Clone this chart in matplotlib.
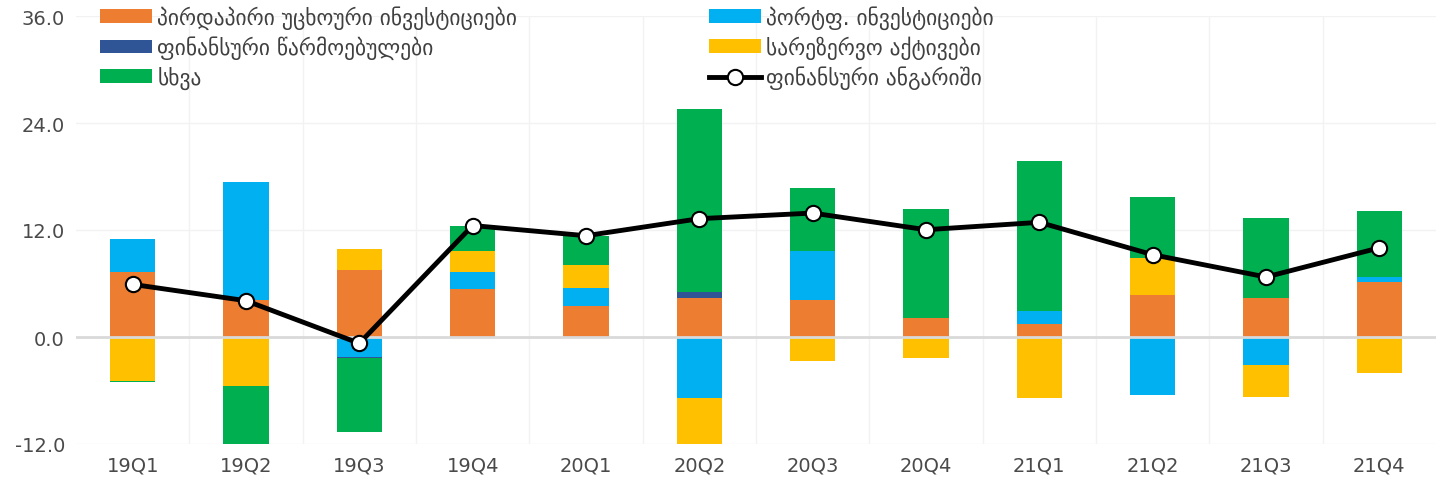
import numpy as np
import matplotlib.pyplot as plt

quarters = ["19Q1", "19Q2", "19Q3", "19Q4", "20Q1", "20Q2",
            "20Q3", "20Q4", "21Q1", "21Q2", "21Q3", "21Q4"]

fdi       = [7.26, 4.18, 7.48, 5.35, 3.48, 4.37, 4.10, 2.13, 1.46, 4.75, 4.34, 6.17]
portfolio = [3.77, 13.17, -2.28, 1.94, 2.02, -6.84, 5.50, 0.0, 1.42, -6.47, -3.17, 0.56]
deriv     = [0.0, 0.0, -0.10, 0.0, 0.0, 0.64, 0.0, 0.0, 0.0, 0.0, 0.0, 0.0]
reserves  = [-4.90, -5.50, 2.42, 2.39, 2.61, -5.60, -2.73, -2.36, -6.84, 4.08, -3.52, -4.07]
other     = [-0.20, -6.90, -8.30, 2.80, 3.25, 20.56, 7.10, 12.26, 16.85, 6.87, 9.04, 7.37]
fin_acc   = [5.90, 4.07, -0.71, 12.50, 11.36, 13.27, 13.90, 12.03, 12.86, 9.23, 6.73, 10.00]

names = ["პირდაპირი უცხოური ინვესტიციები", "პორტფ. ინვესტიციები",
         "ფინანსური წარმოებულები", "სარეზერვო აქტივები", "სხვა"]
line_name = "ფინანსური ანგარიში"
colors = ["#ED7D31", "#00B0F0", "#2F5597", "#FFC000", "#00B050"]

plt.rcParams['font.family'] = ['DejaVu Sans']

fig = plt.figure(figsize=(14.43, 4.85), dpi=100)
ax = fig.add_axes([76 / 1443, 40 / 485, 1360 / 1443, 428 / 485])

x = np.arange(len(quarters))
pos_base = np.zeros(len(quarters))
neg_base = np.zeros(len(quarters))
handles = []
for vals, name, c in zip([fdi, portfolio, deriv, reserves, other], names, colors):
    v = np.array(vals)
    bottoms = np.where(v >= 0, pos_base, neg_base)
    b = ax.bar(x, v, 0.40, bottom=bottoms, color=c, label=name, zorder=2)
    handles.append(b)
    pos_base += np.where(v >= 0, v, 0)
    neg_base += np.where(v < 0, v, 0)

ln, = ax.plot(x, fin_acc, color="black", lw=3.5, marker="o", markersize=11,
              markerfacecolor="white", markeredgecolor="black", markeredgewidth=1.5,
              label=line_name, zorder=4)

ax.set_xlim(-0.5, len(quarters) - 0.5)
ax.set_ylim(-12, 36)
ax.set_yticks([-12, 0, 12, 24, 36])
ax.set_yticklabels(["%.1f" % t for t in [-12, 0, 12, 24, 36]])
ax.set_xticks(x)
ax.set_xticklabels(quarters)
ax.tick_params(length=0, labelsize=14, colors="#4A4A4A", pad=8)

# faint grid
for t in [-12, 12, 24, 36]:
    ax.axhline(t, color="#F2F2F2", lw=1, zorder=0)
for b in np.arange(0.5, len(quarters) - 1, 1):
    ax.axvline(b, color="#F2F2F2", lw=1, zorder=0)
ax.axhline(0, color="#D9D9D9", lw=2, zorder=3)

for s in ax.spines.values():
    s.set_visible(False)

order = [handles[0], handles[2], handles[4], handles[1], handles[3], ln]
labels = [h.get_label() for h in order]
fig.legend(order, labels, ncol=2, frameon=False, loc="upper left",
           bbox_to_anchor=(81 / 1443, 1.027), fontsize=15.5, handlelength=2.4,
           handleheight=0.6, labelspacing=0.3, columnspacing=8.9,
           handletextpad=0.25, labelcolor="#404040")

fig.savefig("out.png", dpi=100)
